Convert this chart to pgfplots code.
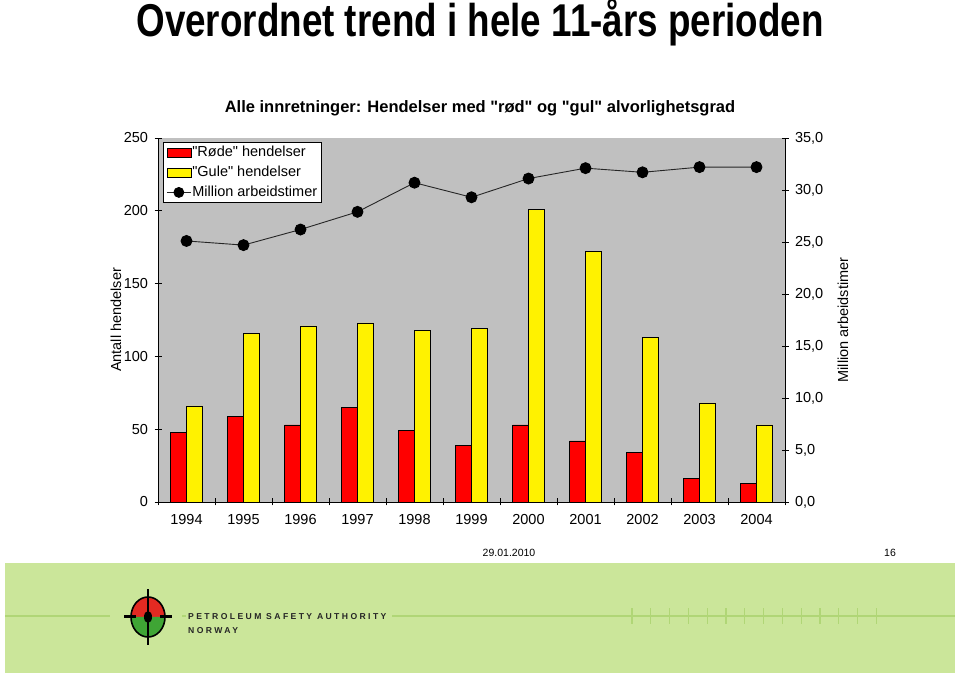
\documentclass[border=0pt]{standalone}
\usepackage{fontspec}
\setmainfont{Liberation Sans}[Ligatures=TeXOff]
\newfontfamily\titlefont{Liberation Sans}[FakeStretch=0.8]
\usepackage{pgfplots}
\pgfplotsset{compat=1.18}
\definecolor{bggray}{HTML}{C0C0C0}
\definecolor{ptsagreen}{HTML}{CBE69A}
\definecolor{ptsaline}{HTML}{B0D676}
\definecolor{logogreen}{HTML}{3FA535}
\definecolor{logored}{HTML}{E32A22}
\newcommand{\q}{\symbol{34}}

\begin{document}
\begin{tikzpicture}[x=1pt,y=1pt]
\path[use as bounding box, fill=white] (0,0) rectangle (959,675);
\node[font=\titlefont\bfseries\fontsize{46}{50}\selectfont, anchor=base] at (480,638) {Overordnet trend i hele 11-års perioden};
\node[font=\bfseries\fontsize{16.5}{19}\selectfont, anchor=base] at (480,562) {Alle innretninger: Hendelser med \q rød\q{} og \q gul\q{} alvorlighetsgrad};

\begin{axis}[
  at={(158pt,173pt)}, anchor=south west,
  width=627pt, height=364pt, scale only axis,
  xmin=-0.5, xmax=10.5, ymin=0, ymax=250,
  axis x line*=bottom, axis y line*=left,
  axis line style={-, black, line width=0.8pt},
  axis background/.style={fill=bggray},
  ybar=0pt, bar width=16pt,
  xtick={-0.5,0.5,...,10.5}, xticklabels={},
  extra x ticks={0,1,2,3,4,5,6,7,8,9,10},
  extra x tick labels={1994,1995,1996,1997,1998,1999,2000,2001,2002,2003,2004},
  extra x tick style={major tick length=0pt, xticklabel style={yshift=-9pt}},
  ytick={0,50,...,250},
  tick align=center, major tick length=7pt,
  tick style={black, line width=0.8pt},
  ticklabel style={font=\fontsize{14.5}{16}\selectfont},
  yticklabel style={xshift=-3pt},
  /pgf/number format/assume math mode=true,
  ylabel={Antall hendelser},
  ylabel style={at={(axis description cs:-0.067,0.5)}, anchor=center, font=\fontsize{14.5}{16}\selectfont},
  legend style={at={(axis description cs:0.008,0.989)}, anchor=north west, draw=black, fill=white,
    font=\fontsize{14.5}{17}\selectfont, inner xsep=3pt, inner ysep=3pt, row sep=6pt, line width=0.8pt,
    nodes={inner sep=1pt}},
  legend cell align=left,
]
\addplot[fill=red, draw=black, line width=0.5pt,
  legend image code/.code={\draw[fill=red,draw=black,line width=0.6pt] (0pt,-4.5pt) rectangle (24pt,4.5pt);}]
  coordinates {(0,48) (1,59) (2,53) (3,65) (4,49) (5,39) (6,53) (7,42) (8,34) (9,16) (10,13)};
\addlegendentry{\q Røde\q{} hendelser}
\addplot[fill=yellow, draw=black, line width=0.5pt,
  legend image code/.code={\draw[fill=yellow,draw=black,line width=0.6pt] (0pt,-4.5pt) rectangle (24pt,4.5pt);}]
  coordinates {(0,66) (1,116) (2,121) (3,123) (4,118) (5,119) (6,201) (7,172) (8,113) (9,68) (10,53)};
\addlegendentry{\q Gule\q{} hendelser}
\addlegendimage{legend image code/.code={\draw[black!85,line width=0.9pt] (0pt,0pt) -- (24pt,0pt); \fill[black] (12pt,0pt) circle (5pt);}}
\addlegendentry{Million arbeidstimer}
\end{axis}

\begin{axis}[
  at={(158pt,173pt)}, anchor=south west,
  width=627pt, height=364pt, scale only axis,
  xmin=-0.5, xmax=10.5, ymin=0, ymax=35,
  axis x line=none, axis y line*=right,
  axis line style={-, black, line width=0.8pt},
  ytick={0,5,...,35},
  tick align=center, major tick length=7pt,
  tick style={black, line width=0.8pt},
  ticklabel style={font=\fontsize{14.5}{16}\selectfont},
  yticklabel style={xshift=3pt},
  /pgf/number format/.cd, fixed, fixed zerofill, precision=1, use comma, assume math mode=true,
  /pgfplots/.cd,
  ylabel={Million arbeidstimer},
  ylabel style={at={(axis description cs:1.0925,0.5)}, anchor=center, rotate=0, font=\fontsize{14.5}{16}\selectfont},
  clip=false,
]
\addplot[black!85, line width=0.9pt, mark=*, mark size=5.5pt, mark options={fill=black, draw=black}]
  coordinates {(0,25.1) (1,24.7) (2,26.2) (3,27.9) (4,30.7) (5,29.3) (6,31.1) (7,32.1) (8,31.7) (9,32.2) (10,32.2)};
\end{axis}

% footer
\node[font=\fontsize{10.5}{12}\selectfont, anchor=base] at (509,118) {29.01.2010};
\node[font=\fontsize{10.5}{12}\selectfont, anchor=base] at (890,118) {16};
\fill[ptsagreen] (5,2) rectangle (955,112);
\draw[ptsaline, line width=1.3pt] (5,59) -- (955,59);
\foreach \i in {0,...,13} \draw[ptsaline, line width=1.3pt] (632+\i*18.8,51) -- ++(0,16);
% logo
\fill[ptsagreen] (110,52) rectangle (182,66);
\fill[ptsagreen] (186,30) rectangle (392,66);
\fill[logored] (131,58) arc[start angle=180, end angle=0, x radius=17, y radius=20] -- cycle;
\fill[logogreen] (131,58) arc[start angle=180, end angle=360, x radius=17, y radius=20] -- cycle;
\draw[black, line width=1.6pt] (148,58) ellipse[x radius=17, y radius=20];
\draw[black, line width=1.4pt] (148,30) -- (148,86);
\draw[black, line width=3pt] (124,58) -- (136,58);
\draw[black, line width=3pt] (160,58) -- (172,58);
\fill[black] (148,58) ellipse[x radius=4, y radius=6];
\node[font=\bfseries\fontsize{8.6}{9}\selectfont\addfontfeatures{LetterSpace=28}, text=black!85, anchor=base west, inner sep=0] at (188,55) {PETROLEUM SAFETY AUTHORITY};
\node[font=\bfseries\fontsize{8.6}{9}\selectfont\addfontfeatures{LetterSpace=28}, text=black!85, anchor=base west, inner sep=0] at (188,41) {NORWAY};
\end{tikzpicture}
\end{document}
